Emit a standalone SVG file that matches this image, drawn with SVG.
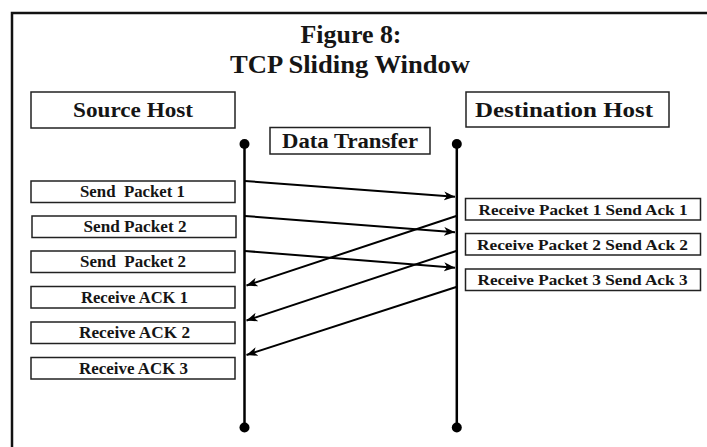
<svg xmlns="http://www.w3.org/2000/svg" width="707" height="447" viewBox="0 0 707 447">
  <defs>
    <marker id="arrow" markerUnits="userSpaceOnUse" markerWidth="12" markerHeight="10" refX="11" refY="4.5" orient="auto">
      <path d="M0,0 L11,4.5 L0,9 L3,4.5 z" fill="#000"/>
    </marker>
    <style>
      text { font-family: "Liberation Serif", "Times New Roman", serif; font-weight: bold; fill: #151515; text-anchor: middle; white-space: pre; }
      .title { font-size: 25px; }
      .host { font-size: 22px; }
      .label { font-size: 20px; }
      .step { font-size: 16px; }
      .rstep { font-size: 15.5px; }
      .box { fill: #fff; stroke: #222; stroke-width: 1.5; }
      .life { stroke: #000; stroke-width: 2.5; fill: none; }
      .dot { fill: #000; }
      .msg { stroke: #000; stroke-width: 2; fill: none; marker-end: url(#arrow); }
    </style>
  </defs>

  <rect width="707" height="447" fill="#fff"/>
  <!-- outer frame -->
  <rect x="12" y="13" width="720" height="460" fill="none" stroke="#111" stroke-width="2.5"/>

  <g id="title">
    <text class="title" x="351" y="43" textLength="101" lengthAdjust="spacingAndGlyphs">Figure 8:</text>
    <text class="title" x="350" y="73" textLength="240" lengthAdjust="spacingAndGlyphs">TCP Sliding Window</text>
  </g>

  <g id="source-host">
    <rect class="box" x="31" y="92" width="204" height="36"/>
    <text class="host" x="133" y="117" textLength="120" lengthAdjust="spacingAndGlyphs">Source Host</text>
  </g>
  <g id="destination-host">
    <rect class="box" x="466" y="92" width="203" height="35"/>
    <text class="host" x="564" y="117" textLength="178" lengthAdjust="spacingAndGlyphs">Destination Host</text>
  </g>
  <g id="data-transfer">
    <rect class="box" x="270" y="127.5" width="160" height="26.5"/>
    <text class="label" x="350" y="147.5" textLength="136" lengthAdjust="spacingAndGlyphs">Data Transfer</text>
  </g>

  <!-- lifelines -->
  <g id="source-lifeline">
    <line class="life" x1="244.5" y1="144" x2="244.5" y2="427.5"/>
    <circle class="dot" cx="244.5" cy="144" r="5"/>
    <circle class="dot" cx="244.5" cy="427.5" r="5"/>
  </g>
  <g id="destination-lifeline">
    <line class="life" x1="456.8" y1="144" x2="456.8" y2="427.5"/>
    <circle class="dot" cx="456.8" cy="144" r="5"/>
    <circle class="dot" cx="456.8" cy="427.5" r="5"/>
  </g>

  <!-- sender steps -->
  <g id="send-packet-1">
    <rect class="box" x="31" y="181" width="204" height="21.5"/>
    <text class="step" x="132.5" y="197" textLength="105" lengthAdjust="spacingAndGlyphs">Send  Packet 1</text>
  </g>
  <g id="send-packet-2">
    <rect class="box" x="32" y="216" width="204" height="21.5"/>
    <text class="step" x="135" y="232" textLength="103" lengthAdjust="spacingAndGlyphs">Send Packet 2</text>
  </g>
  <g id="send-packet-3">
    <rect class="box" x="31" y="251" width="204" height="21.5"/>
    <text class="step" x="133" y="267" textLength="106" lengthAdjust="spacingAndGlyphs">Send  Packet 2</text>
  </g>
  <g id="receive-ack-1">
    <rect class="box" x="31" y="286.5" width="204" height="21.5"/>
    <text class="step" x="134.5" y="302.5" textLength="107" lengthAdjust="spacingAndGlyphs">Receive ACK 1</text>
  </g>
  <g id="receive-ack-2">
    <rect class="box" x="31" y="322" width="204" height="21.5"/>
    <text class="step" x="134.5" y="338" textLength="111" lengthAdjust="spacingAndGlyphs">Receive ACK 2</text>
  </g>
  <g id="receive-ack-3">
    <rect class="box" x="31" y="357.5" width="204" height="21.5"/>
    <text class="step" x="133.5" y="373.5" textLength="109" lengthAdjust="spacingAndGlyphs">Receive ACK 3</text>
  </g>

  <!-- receiver steps -->
  <g id="receive-packet-1">
    <rect class="box" x="465.5" y="198.5" width="235" height="21.5"/>
    <text class="rstep" x="583" y="214.5" textLength="209" lengthAdjust="spacingAndGlyphs">Receive Packet 1 Send Ack 1</text>
  </g>
  <g id="receive-packet-2">
    <rect class="box" x="465.5" y="233.5" width="235" height="21.5"/>
    <text class="rstep" x="582.5" y="249.5" textLength="211" lengthAdjust="spacingAndGlyphs">Receive Packet 2 Send Ack 2</text>
  </g>
  <g id="receive-packet-3">
    <rect class="box" x="465.5" y="269" width="235" height="21.5"/>
    <text class="rstep" x="582.5" y="285" textLength="210" lengthAdjust="spacingAndGlyphs">Receive Packet 3 Send Ack 3</text>
  </g>

  <!-- messages between hosts -->
  <g id="connectors">
    <line class="msg" x1="245" y1="181" x2="455" y2="196.7"/>
    <line class="msg" x1="245" y1="216" x2="455" y2="232.3"/>
    <line class="msg" x1="245" y1="251" x2="455" y2="267.7"/>
    <line class="msg" x1="457" y1="215.7" x2="246.5" y2="285.5"/>
    <line class="msg" x1="457" y1="250.7" x2="246.5" y2="320.5"/>
    <line class="msg" x1="457" y1="286.7" x2="246.5" y2="355"/>
  </g>
</svg>
